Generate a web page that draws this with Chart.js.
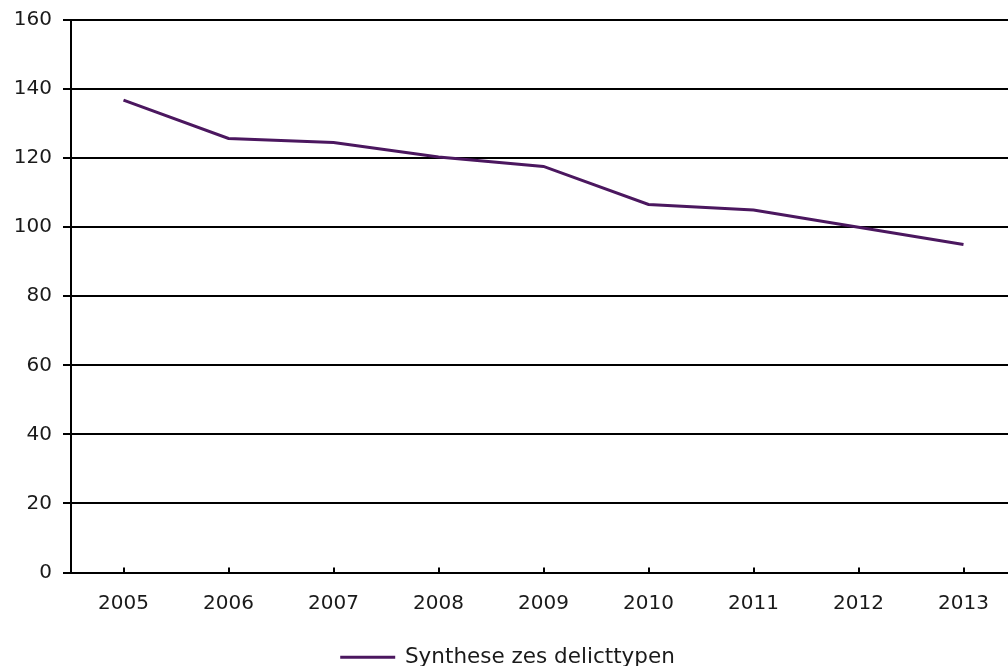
<!DOCTYPE html>
<html>
<head>
<meta charset="utf-8">
<script src="https://cdn.jsdelivr.net/npm/chart.js@4/dist/chart.umd.min.js"></script>
<style>
  html, body { margin: 0; padding: 0; background: #fff; overflow: hidden; }
  #wrap { width: 1008px; height: 666px; overflow: hidden; position: relative; }
  #box { width: 1040px; height: 681px; position: absolute; left: 0; top: -3px; }
</style>
</head>
<body>
<div id="wrap"><div id="box"><canvas id="myChart"></canvas></div></div>
<script>
// data
var years = ['2005', '2006', '2007', '2008', '2009', '2010', '2011', '2012', '2013'];
var synthese = [136.8, 125.7, 124.5, 120.3, 117.6, 106.6, 105.0, 100.0, 95.0];
var seriesName = 'Synthese zes delicttypen';
var yTicks = [0, 20, 40, 60, 80, 100, 120, 140, 160];

var lineColor = '#4b175f';
var inkColor = '#1a1a1a';

Chart.defaults.font.family = '"DejaVu Sans", Verdana, sans-serif';
Chart.defaults.font.size = 20;
Chart.defaults.color = inkColor;

// small tick marks on the x axis that point up into the plot
var innerTicks = {
    id: 'innerTicks',
    afterDraw: function (chart) {
        var xs = chart.scales.x;
        var c = chart.ctx;
        var bottom = chart.chartArea.bottom;
        c.save();
        c.strokeStyle = '#000';
        c.lineWidth = 2;
        for (var i = 0; i < xs.ticks.length; i++) {
            var px = Math.round(xs.getPixelForTick(i));
            c.beginPath();
            c.moveTo(px, bottom);
            c.lineTo(px, bottom - 5);
            c.stroke();
        }
        c.restore();
    }
};

var ctx = document.getElementById('myChart').getContext('2d');
var myChart = new Chart(ctx, {
    type: 'line',
    data: {
        labels: years,
        datasets: [{
            label: seriesName,
            data: synthese,
            borderColor: lineColor,
            backgroundColor: lineColor,
            borderWidth: 3,
            pointRadius: 0,
            tension: 0
        }]
    },
    options: {
        responsive: true,
        maintainAspectRatio: false,
        animation: false,
        layout: {
            padding: { left: 0, right: 24, top: 2, bottom: 0 }
        },
        plugins: {
            legend: {
                position: 'bottom',
                labels: {
                    boxWidth: 53,
                    boxHeight: 1,
                    padding: 12,
                    color: inkColor,
                    font: { size: 21.5 },
                    generateLabels: function (chart) {
                        var items = Chart.defaults.plugins.legend.labels.generateLabels(chart);
                        items.forEach(function (it) { it.lineWidth = 2; });
                        return items;
                    }
                }
            },
            tooltip: { enabled: false }
        },
        scales: {
            x: {
                offset: true,
                grid: {
                    drawOnChartArea: false,
                    drawTicks: false
                },
                border: { display: true, color: '#000', width: 2 },
                ticks: { padding: 19, color: inkColor, maxRotation: 0 }
            },
            y: {
                min: 0,
                max: 160,
                afterBuildTicks: function (scale) {
                    scale.ticks = yTicks.map(function (v) { return { value: v }; });
                },
                afterFit: function (scale) { scale.width = 71; },
                grid: {
                    color: '#000',
                    lineWidth: 2,
                    tickLength: 8
                },
                border: { display: true, color: '#000', width: 2 },
                ticks: { padding: 11, color: inkColor }
            }
        }
    },
    plugins: [innerTicks]
});
</script>
</body>
</html>
